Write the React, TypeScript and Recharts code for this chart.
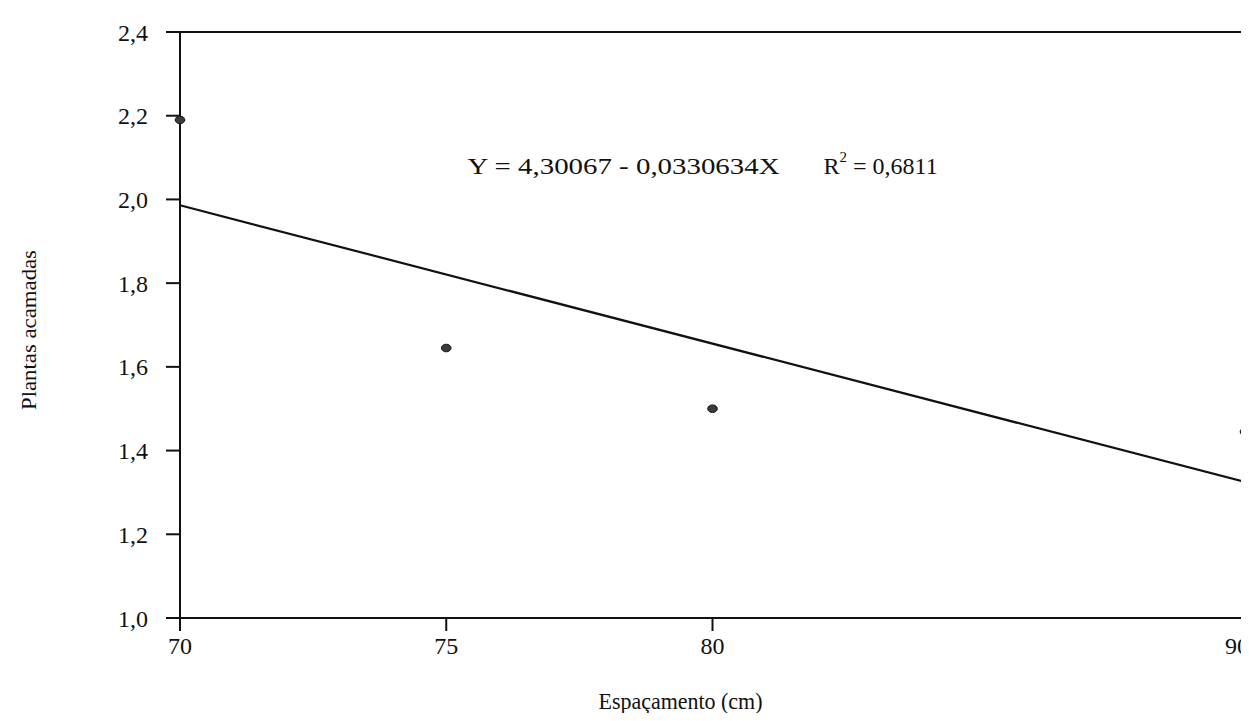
import React from 'react';
import {
  ComposedChart,
  Scatter,
  Line,
  XAxis,
  YAxis,
  ReferenceLine,
  ReferenceDot,
  Label,
} from 'recharts';

// observed means
const spacing = [70, 75, 80, 90];
const lodged = [2.19, 1.645, 1.5, 1.445];

// fitted line endpoints (Y = 4,30067 - 0,0330634X)
const fitX = [70, 90];
const fitY = [1.986, 1.325];

const xTicks = [70, 75, 80, 90];
const yTicks = [1.0, 1.2, 1.4, 1.6, 1.8, 2.0, 2.2, 2.4];

const points = spacing.map((x, i) => ({ x, y: lodged[i] }));
const fitLine = fitX.map((x, i) => ({ x, y: fitY[i] }));

const FONT = '"Liberation Serif", "Times New Roman", serif';
const comma = (v: number) => v.toFixed(1).replace('.', ',');

const Dot = (props: any) => {
  const { cx, cy } = props;
  return <ellipse cx={cx} cy={cy} rx={4.8} ry={3.8} fill="#3b3b3b" stroke="#111" strokeWidth={1} />;
};

const Equation = (props: any) => {
  const { viewBox } = props;
  const x = viewBox.x;
  const y = viewBox.y;
  return (
    <g fontFamily={FONT} fill="#111">
      <text x={x} y={y} fontSize={24} dominantBaseline="middle" textLength={312} lengthAdjust="spacingAndGlyphs">
        Y = 4,30067 - 0,0330634X
      </text>
      <text x={x + 356} y={y} fontSize={24} dominantBaseline="middle">
        R<tspan dy={-9} fontSize={15}>2</tspan>
        <tspan dy={9}> = 0,6811</tspan>
      </text>
    </g>
  );
};

export default function App() {
  return (
    <div style={{ margin: -8, background: '#fff', width: 1249, height: 721 }}>
      <ComposedChart width={1249} height={721} margin={{ top: 32, right: 4, bottom: 43, left: 100 }}>
        <XAxis
          dataKey="x"
          type="number"
          domain={[70, 90]}
          ticks={xTicks}
          height={60}
          tickSize={13}
          tickMargin={6}
          stroke="#111"
          strokeWidth={2}
          tick={{ fontSize: 24, fill: '#111', fontFamily: FONT }}
        >
          <Label
            content={(p: any) => {
              const vb = p.viewBox;
              return (
                <text
                  x={vb.x + vb.width / 2 - 114}
                  y={vb.y + 86}
                  dominantBaseline="middle"
                  fontSize={23}
                  fontFamily={FONT}
                  fill="#111"
                  textLength={164}
                  lengthAdjust="spacingAndGlyphs"
                >
                  Espaçamento (cm)
                </text>
              );
            }}
          />
        </XAxis>
        <YAxis
          type="number"
          domain={[1.0, 2.4]}
          ticks={yTicks}
          width={80}
          tickSize={14}
          tickMargin={18}
          tickFormatter={comma}
          stroke="#111"
          strokeWidth={2}
          tick={{ fontSize: 24, fill: '#111', fontFamily: FONT }}
        >
          <Label
            content={(p: any) => {
              const vb = p.viewBox;
              const cy = vb.y + vb.height / 2 + 5;
              return (
                <text
                  x={31}
                  y={cy}
                  transform={`rotate(-90 31 ${cy})`}
                  textAnchor="middle"
                  dominantBaseline="middle"
                  fontSize={22}
                  fontFamily={FONT}
                  fill="#111"
                  textLength={160}
                  lengthAdjust="spacingAndGlyphs"
                >
                  Plantas acamadas
                </text>
              );
            }}
          />
        </YAxis>
        <ReferenceLine y={2.4} stroke="#111" strokeWidth={2} />
        <ReferenceLine x={90} stroke="#111" strokeWidth={2} />
        <Line
          data={fitLine}
          dataKey="y"
          type="linear"
          stroke="#111"
          strokeWidth={2.2}
          dot={false}
          activeDot={false}
          isAnimationActive={false}
        />
        <Scatter data={points} dataKey="y" shape={<Dot />} isAnimationActive={false} />
        <ReferenceDot x={75.4} y={2.075} r={0} fill="none" stroke="none" label={<Equation />} />
      </ComposedChart>
    </div>
  );
}
